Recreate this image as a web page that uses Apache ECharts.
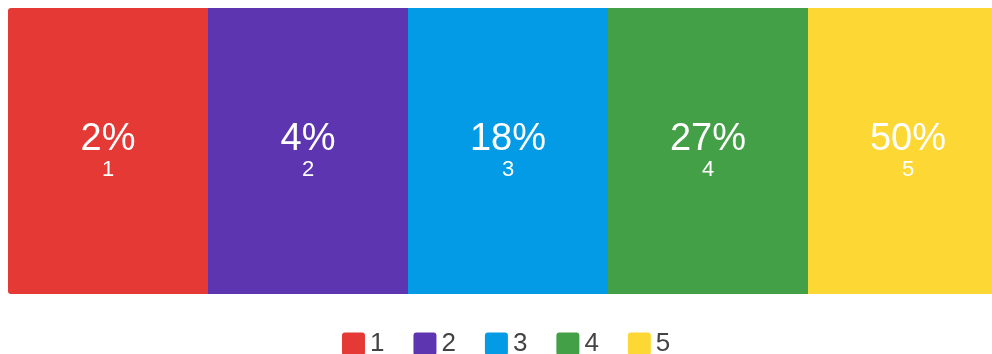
<!DOCTYPE html>
<html>
<head>
<meta charset="utf-8">
<script src="https://cdn.jsdelivr.net/npm/echarts@6/dist/echarts.min.js"></script>
<style>
  html, body { margin: 0; padding: 0; background: #fff; }
  #chart { width: 992px; height: 354px; }
</style>
</head>
<body>
<div id="chart"></div>
<script>
// Segment names and their share (percent) of the total
const categories = ['1', '2', '3', '4', '5'];
const shares = [2, 4, 18, 27, 50];
// Each segment is drawn as an equal-size block
const blockHeight = [1, 1, 1, 1, 1];
const colors = ['#E53935', '#5E35B1', '#039BE5', '#43A047', '#FDD835'];

const FONT = '"Liberation Sans", Arial, Helvetica, sans-serif';
// Square legend swatch with slightly rounded corners
const SWATCH = 'path://M3,0H20Q23,0 23,3V20Q23,23 20,23H3Q0,23 0,20V3Q0,0 3,0Z';

const series = categories.map((name, i) => ({
  name: name,
  type: 'bar',
  stack: 'blocks',
  barWidth: '100%',
  itemStyle: {
    color: colors[i],
    borderRadius: i === 0 ? [3, 0, 0, 3] : (i === categories.length - 1 ? [0, 3, 3, 0] : 0)
  },
  label: {
    show: true,
    position: 'inside',
    formatter: () => '{p|' + shares[i] + '%}\n{n|' + name + '}',
    rich: {
      p: { fontSize: 38, lineHeight: 38, color: '#fff', fontFamily: FONT, align: 'center' },
      n: { fontSize: 22, lineHeight: 22, color: '#fff', fontFamily: FONT, align: 'center' }
    }
  },
  emphasis: { disabled: true },
  data: categories.map((c, j) => (j === i ? blockHeight[i] : '-'))
}));

const chart = echarts.init(document.getElementById('chart'), null, { renderer: 'canvas' });
chart.setOption({
  animation: false,
  color: colors,
  grid: { left: 8, top: 8, width: 1000, height: 286, containLabel: false, outerBoundsMode: 'none' },
  xAxis: {
    type: 'category',
    data: categories,
    show: false,
    boundaryGap: true
  },
  yAxis: { type: 'value', min: 0, max: 1, show: false },
  legend: {
    left: 342,
    top: 331,
    padding: 0,
    icon: SWATCH,
    itemWidth: 23,
    itemHeight: 23,
    itemGap: 29,
    textStyle: { fontSize: 26, lineHeight: 23, color: '#444', fontFamily: FONT },
    data: categories
  },
  series: series
});
</script>
</body>
</html>
